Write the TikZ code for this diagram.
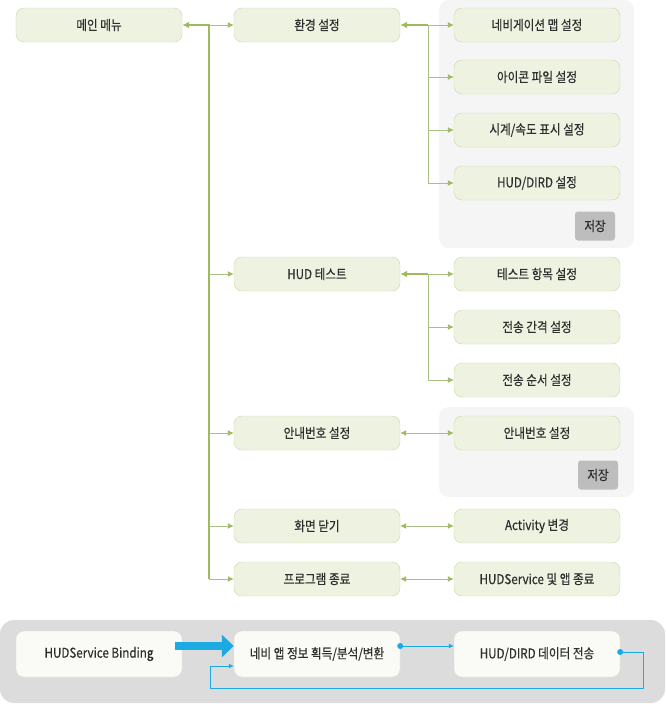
\documentclass[tikz,border=0pt]{standalone}
\usepackage{fontspec}
\setmainfont{Noto Sans CJK KR}[FakeStretch=0.86,FakeBold=0.4]
\usetikzlibrary{arrows.meta}
\definecolor{gfill}{HTML}{EEF3E1}
\definecolor{gline}{HTML}{C8D8A6}
\definecolor{garrow}{HTML}{9DBB5E}
\definecolor{gthin}{HTML}{A9BF84}
\definecolor{panel}{HTML}{F5F5F5}
\definecolor{bpanel}{HTML}{DCDCDC}
\definecolor{savefill}{HTML}{BDBDBD}
\definecolor{txt}{HTML}{2E2E2E}
\definecolor{bline}{HTML}{1BAAE2}
\definecolor{wfill}{HTML}{FAFAF6}
\definecolor{wline}{HTML}{E2E2D6}
\tikzset{
  gnode/.style={draw=gline, fill=gfill, rounded corners=8pt, minimum width=166pt, minimum height=34pt, text=txt, font=\fontsize{13.5}{15}\selectfont, inner sep=0pt},
  wnode/.style={gnode, draw=wline, fill=wfill, minimum height=46pt},
  savebtn/.style={fill=savefill, rounded corners=3pt, minimum width=40pt, minimum height=29pt, text=txt, font=\fontsize{13.5}{15}\selectfont, inner sep=0pt},
  trunk/.style={draw=garrow, line width=1.8pt},
  branch/.style={draw=gthin, line width=0.9pt},
  gtip/.tip={Latex[length=6pt,width=6pt,color=garrow]},
  bthin/.style={draw=bline, line width=0.9pt},
}
\begin{document}
\begin{tikzpicture}[x=1pt,y=-1pt]
\useasboundingbox (0,0) rectangle (665,713);
% panels
\fill[panel, rounded corners=10pt] (439,0) rectangle (634,248);
\fill[panel, rounded corners=10pt] (439,407) rectangle (634,497);
\fill[bpanel, rounded corners=14pt] (0,620) rectangle (665,703);
% column 1
\node[gnode] (main) at (99,25) {메인 메뉴};
% column 2
\node[gnode] (env) at (317,25) {환경 설정};
\node[gnode] (hud) at (317,274) {HUD 테스트};
\node[gnode] (guide) at (317,433) {안내번호 설정};
\node[gnode] (close) at (317,526) {화면 닫기};
\node[gnode] (prog) at (317,579) {프로그램 종료};
% column 3
\node[gnode] (navmap) at (537,25) {네비게이션 맵 설정};
\node[gnode] (icon) at (537,77) {아이콘 파일 설정};
\node[gnode] (clock) at (537,130) {시계/속도 표시 설정};
\node[gnode] (dird) at (537,183) {HUD/DIRD 설정};
\node[savebtn] (save1) at (595,226) {저장};
\node[gnode] (item) at (537,274) {테스트 항목 설정};
\node[gnode] (intv) at (537,327) {전송 간격 설정};
\node[gnode] (order) at (537,380) {전송 순서 설정};
\node[gnode] (guide2) at (537,433) {안내번호 설정};
\node[savebtn] (save2) at (598,475) {저장};
\node[gnode] (act) at (537,526) {Activity 변경};
\node[gnode] (svc) at (537,579) {HUDService 및 앱 종료};
% bottom
\node[wnode] (bind) at (99,654) {HUDService Binding};
\node[wnode] (navi) at (317,654) {네비 앱 정보 획득/분석/변환};
\node[wnode] (send) at (537,654) {HUD/DIRD 데이터 전송};

% main trunk
\coordinate (j1) at (209,25);
\draw[trunk,{Latex[length=7pt,width=7pt]}-] (main.east) -- (j1) -- (j1 |- prog.west);
\draw[branch,-gtip] (j1) -- (env.west);
\foreach \n in {hud,guide,close,prog}{
  \draw[branch,-gtip] (\n.west -| j1) -- (\n.west);
}
% env trunk
\coordinate (j2) at (428,25);
\draw[trunk,{Latex[length=7pt,width=7pt]}-] (env.east) -- (j2);
\draw[branch] (j2) -- (j2 |- dird.west);
\foreach \n in {navmap,icon,clock,dird}{
  \draw[branch,-gtip] (\n.west -| j2) -- (\n.west);
}
% hud trunk
\coordinate (j3) at (428,274);
\draw[trunk,{Latex[length=7pt,width=7pt]}-] (hud.east) -- (j3);
\draw[branch] (j3) -- (j3 |- order.west);
\foreach \n in {item,intv,order}{
  \draw[branch,-gtip] (\n.west -| j3) -- (\n.west);
}
% double arrows
\draw[branch,gtip-gtip] (guide.east) -- (guide2.west);
\draw[branch,gtip-gtip] (close.east) -- (act.west);
\draw[branch,gtip-gtip] (prog.east) -- (svc.west);

% bottom flow
\coordinate (b1) at (175,646);
\draw[draw=bline, line width=8pt, -{Triangle[length=12pt,width=22pt]}] (b1) -- (navi.west |- b1);
\fill[bline] (navi.east |- 0,646) circle (3pt);
\draw[bthin,-{Latex[length=5pt,width=5pt]}] (navi.east |- 0,646) -- (send.west |- 0,646);
\fill[bline] (send.east |- 0,652) circle (3pt);
\coordinate (r1) at (643,652);
\coordinate (r2) at (643,688);
\coordinate (r3) at (210,688);
\coordinate (r4) at (210,666);
\draw[bthin,-{Latex[length=5pt,width=5pt]}] (send.east |- 0,652) -- (r1) -- (r2) -- (r3) -- (r4) -- (navi.west |- r4);
\end{tikzpicture}
\end{document}
